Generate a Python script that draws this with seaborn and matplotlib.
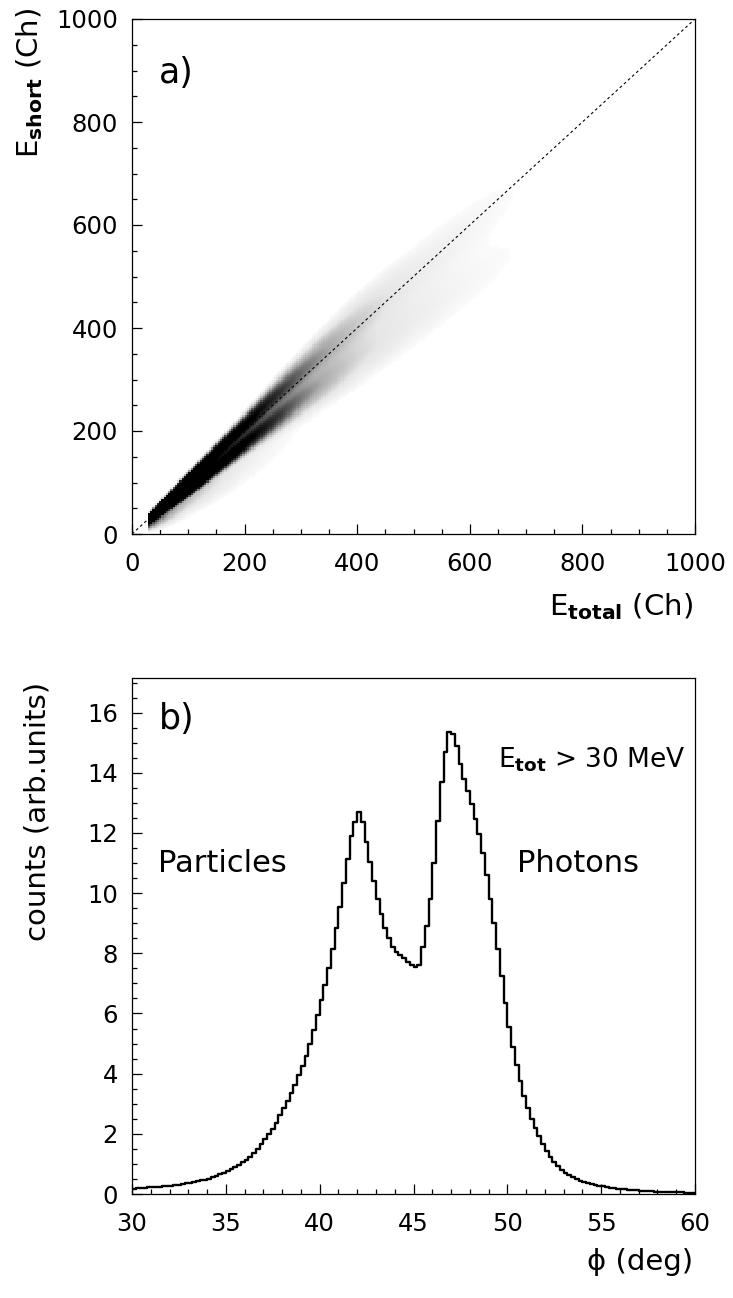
import numpy as np
import pandas as pd
import matplotlib
matplotlib.use("Agg")
import matplotlib.pyplot as plt
from matplotlib.colors import LogNorm, LinearSegmentedColormap
from matplotlib.ticker import MultipleLocator
import seaborn as sns

# ---------------- panel a: E_short vs E_total band description ----------------
# E_total knots (channels) where the two bands were characterised
band_etot = [30, 40, 60, 100, 150, 200, 250, 300, 350, 400, 500, 600, 700, 850]
# upper (fast) band: E_short / E_total ratio, events per channel, relative width
upper_ratio = [1.02, 1.04, 1.05, 1.05, 1.05, 1.05, 1.05, 1.04, 1.03, 1.02, 1.00, 0.99, 0.98, 0.97]
upper_rate = [900, 800, 450, 170, 70, 30, 12, 5, 2.5, 1.2, 0.3, 0.12, 0.05, 0.015]
upper_width = [0.08, 0.07, 0.055, 0.045, 0.04, 0.04, 0.045, 0.05, 0.055, 0.06, 0.06, 0.06, 0.06, 0.06]
# lower (slow) band
lower_ratio = [0.90, 0.88, 0.87, 0.86, 0.87, 0.88, 0.88, 0.88, 0.87, 0.86, 0.84, 0.82, 0.80, 0.79]
lower_rate = [700, 650, 380, 150, 65, 28, 11, 4, 1.8, 0.8, 0.25, 0.1, 0.05, 0.015]
lower_width = [0.08, 0.07, 0.055, 0.045, 0.04, 0.04, 0.045, 0.05, 0.055, 0.06, 0.06, 0.06, 0.06, 0.06]
# sparse off-band events
halo_ratio = [0.80, 0.80, 0.78, 0.78, 0.78, 0.78, 0.78, 0.78, 0.78, 0.78, 0.78, 0.78, 0.78, 0.78]
halo_rate = [8, 6, 3.5, 1.5, 0.7, 0.3, 0.15, 0.08, 0.05, 0.03, 0.015, 0.008, 0.004, 0.002]
halo_width = [0.2, 0.2, 0.18, 0.16, 0.15, 0.15, 0.15, 0.15, 0.15, 0.15, 0.15, 0.15, 0.15, 0.15]
etot_threshold = 28.0

# ---------------- panel b: phi spectrum, 0.2 deg bins from 30 to 60 deg ----------------
phi_range = (30.0, 60.0)
phi_counts = [
    0.18, 0.19, 0.20, 0.21, 0.22, 0.22, 0.23, 0.24, 0.25, 0.26,
    0.27, 0.29, 0.31, 0.33, 0.35, 0.37, 0.40, 0.42, 0.45, 0.48,
    0.51, 0.55, 0.60, 0.65, 0.71, 0.76, 0.82, 0.89, 0.96, 1.05,
    1.14, 1.24, 1.36, 1.50, 1.66, 1.83, 1.98, 2.15, 2.35, 2.62,
    2.85, 3.10, 3.35, 3.62, 3.95, 4.25, 4.60, 5.00, 5.45, 5.95,
    6.45, 6.95, 7.50, 8.15, 8.85, 9.55, 10.35, 11.15, 11.90, 12.35,
    12.70, 12.35, 11.70, 11.05, 10.40, 9.80, 9.30, 8.85, 8.50, 8.20,
    8.05, 7.95, 7.85, 7.70, 7.60, 7.55, 7.60, 8.20, 8.90, 9.80,
    11.00, 12.40, 13.70, 14.70, 15.35, 15.30, 14.90, 14.30, 13.80, 13.40,
    12.95, 12.45, 11.95, 11.35, 10.60, 9.80, 9.00, 8.15, 7.25, 6.35,
    5.55, 4.90, 4.30, 3.75, 3.25, 2.85, 2.50, 2.20, 1.92, 1.65,
    1.42, 1.22, 1.06, 0.92, 0.80, 0.70, 0.63, 0.56, 0.50, 0.44,
    0.40, 0.36, 0.33, 0.30, 0.27, 0.25, 0.23, 0.21, 0.19, 0.17,
    0.16, 0.15, 0.14, 0.13, 0.12, 0.11, 0.10, 0.10, 0.09, 0.08,
    0.08, 0.07, 0.07, 0.06, 0.06, 0.05, 0.05, 0.04, 0.04, 0.04,
]

# ---------------- style ----------------
sns.set_style("white")
plt.rcParams["font.family"] = ["DejaVu Sans"]
plt.rcParams["mathtext.fontset"] = "dejavusans"
plt.rcParams["axes.linewidth"] = 0.9
plt.rcParams["axes.edgecolor"] = "black"
plt.rcParams["text.color"] = "black"
plt.rcParams["axes.labelcolor"] = "black"
plt.rcParams["xtick.color"] = "black"
plt.rcParams["ytick.color"] = "black"

fig = plt.figure(figsize=(7.33, 12.98), dpi=100)
W, H = 733.0, 1298.0
ax1 = fig.add_axes([132 / W, 1 - 534 / H, 563 / W, 515 / H])
ax2 = fig.add_axes([132 / W, 1 - 1194 / H, 563 / W, 516 / H])


def band_density(X, Y, ratio, rate, width, cell):
    r = np.exp(np.interp(X, band_etot, np.log(rate)))
    mu = np.interp(X, band_etot, ratio) * X
    sig = np.interp(X, band_etot, width) * X
    return r * np.exp(-0.5 * ((Y - mu) / sig) ** 2) / (np.sqrt(2 * np.pi) * sig) * cell * cell


# ---- panel a: two-dimensional histogram of the two bands ----
cell = 4.0
edges = np.arange(0.0, 1000.0 + cell, cell)
centres = edges[:-1] + cell / 2
X, Y = np.meshgrid(centres, centres, indexing="ij")
dens = (band_density(X, Y, upper_ratio, upper_rate, upper_width, cell)
        + band_density(X, Y, lower_ratio, lower_rate, lower_width, cell)
        + band_density(X, Y, halo_ratio, halo_rate, halo_width, cell))
dens[(X < etot_threshold) | (X > 860)] = 0.0

vmin, vmax = 0.01, 15.0
keep = dens > vmin
cells = pd.DataFrame({"etot": X[keep], "eshort": Y[keep], "w": dens[keep]})

greys = LinearSegmentedColormap.from_list(
    "scatter_greys",
    [(0.0, "#fbfbfb"), (0.35, "#e6e6e6"), (0.6, "#ababab"), (0.85, "#303030"), (1.0, "#000000")])

sns.histplot(data=cells, x="etot", y="eshort", weights="w", bins=[edges, edges],
             cmap=greys, ax=ax1)
mesh = ax1.collections[-1]
mesh.set_norm(LogNorm(vmin=vmin, vmax=vmax))

diag = [0, 1000]
sns.lineplot(x=diag, y=diag, ax=ax1, color="black", linewidth=0.8, linestyle=(0, (2.5, 2.5)))

ax1.set_xlim(0, 1000)
ax1.set_ylim(0, 1000)
ax1.xaxis.set_major_locator(MultipleLocator(200))
ax1.xaxis.set_minor_locator(MultipleLocator(50))
ax1.yaxis.set_major_locator(MultipleLocator(200))
ax1.yaxis.set_minor_locator(MultipleLocator(50))

# ---- panel b: phi histogram ----
phi_width = (phi_range[1] - phi_range[0]) / len(phi_counts)
spectrum = pd.DataFrame({
    "phi": phi_range[0] + phi_width * (np.arange(len(phi_counts)) + 0.5),
    "counts": phi_counts,
})
sns.histplot(data=spectrum, x="phi", weights="counts", bins=len(phi_counts),
             binrange=phi_range, element="step", fill=False, color="black",
             linewidth=1.7, ax=ax2)
ax2.set_xlim(*phi_range)
ax2.set_ylim(0, 17.15)
ax2.xaxis.set_major_locator(MultipleLocator(5))
ax2.xaxis.set_minor_locator(MultipleLocator(1))
ax2.yaxis.set_major_locator(MultipleLocator(2))
ax2.yaxis.set_minor_locator(MultipleLocator(0.5))

for ax in (ax1, ax2):
    ax.set_xlabel("")
    ax.set_ylabel("")
    for s in ax.spines.values():
        s.set_visible(True)
        s.set_color("black")
        s.set_linewidth(0.9)
    ax.tick_params(which="both", direction="in", bottom=True, left=True, top=False, right=False,
                   width=0.9, color="black", labelsize=17.5, labelcolor="black")
    ax.tick_params(which="major", length=7.2)
    ax.tick_params(which="minor", length=3.6)
    ax.tick_params(axis="x", which="both", pad=13)
    ax.tick_params(axis="y", which="both", pad=10)

# ---- labels ----
fig.text(693 / W, 1 - 607 / H, r"E$_{\mathbf{total}}$ (Ch)", ha="right", va="center", fontsize=21)
fig.text(30 / W, 1 - 8 / H, r"E$_{\mathbf{short}}$ (Ch)", ha="center", va="top", rotation=90, fontsize=21)
fig.text(693 / W, 1 - 1262 / H, "ϕ (deg)", ha="right", va="center", fontsize=21)
fig.text(38 / W, 1 - 682 / H, "counts (arb.units)", ha="center", va="top", rotation=90, fontsize=21)

ax1.text(0.047, 0.895, "a)", transform=ax1.transAxes, ha="left", va="center", fontsize=25)
ax2.text(0.047, 0.92, "b)", transform=ax2.transAxes, ha="left", va="center", fontsize=25)
ax2.text(0.047, 0.64, "Particles", transform=ax2.transAxes, ha="left", va="center", fontsize=22)
ax2.text(0.683, 0.64, "Photons", transform=ax2.transAxes, ha="left", va="center", fontsize=22)
ax2.text(0.650, 0.842, r"E$_{\mathbf{tot}}$ > 30 MeV", transform=ax2.transAxes,
         ha="left", va="center", fontsize=19)

fig.savefig("out.png", dpi=100, facecolor="white")
